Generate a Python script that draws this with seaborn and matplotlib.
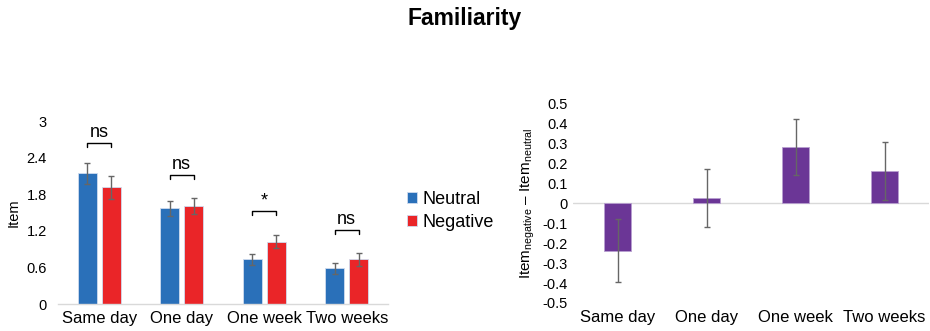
import pandas as pd
import matplotlib
matplotlib.use("Agg")
import matplotlib.pyplot as plt
import seaborn as sns

# datos
delays = ["Same day", "One day", "One week", "Two weeks"]
neutral_mean = [2.14, 1.57, 0.73, 0.585]
neutral_se = [0.165, 0.125, 0.085, 0.095]
negative_mean = [1.91, 1.60, 1.02, 0.73]
negative_se = [0.195, 0.13, 0.11, 0.105]

sig_labels = ["ns", "ns", "*", "ns"]
sig_level = [2.64, 2.11, 1.52, 1.21]

diff_mean = [-0.237, 0.025, 0.284, 0.160]
diff_se = [0.16, 0.146, 0.14, 0.145]

y_ticks_left = [0, 0.6, 1.2, 1.8, 2.4, 3]
y_ticks_right = [-0.5, -0.4, -0.3, -0.2, -0.1, 0, 0.1, 0.2, 0.3, 0.4, 0.5]

sns.set_style("white")
plt.rcParams["font.family"] = ["Liberation Sans", "DejaVu Sans"]
plt.rcParams["mathtext.fontset"] = "custom"
plt.rcParams["mathtext.rm"] = "Liberation Sans"
plt.rcParams["mathtext.it"] = "Liberation Sans:italic"
plt.rcParams["text.color"] = "black"
plt.rcParams["axes.labelcolor"] = "black"
plt.rcParams["xtick.color"] = "black"
plt.rcParams["ytick.color"] = "black"

azul = "#2a70b9"
rojo = "#ea2528"
morado = "#6b3696"
gris_err = "#666666"
gris_linea = "#d9d9d9"

df = pd.DataFrame({
    "delay": delays * 2,
    "value": neutral_mean + negative_mean,
    "cond": ["Neutral"] * len(delays) + ["Negative"] * len(delays),
})
df_diff = pd.DataFrame({"delay": delays, "diff": diff_mean})

fig = plt.figure(figsize=(9.3, 3.31), dpi=100)
fig.text(0.5, 1 - 19 / 331, "Familiarity", ha="center", va="center",
         fontsize=16.5, fontweight="bold")

# 1. PANEL IZQUIERDO
ax1 = fig.add_axes([58 / 930, 27 / 331, 330 / 930, 183 / 331])
sns.barplot(data=df, x="delay", y="value", hue="cond",
            hue_order=["Neutral", "Negative"], palette=[azul, rojo],
            saturation=1, width=0.58, gap=0.2, errorbar=None, ax=ax1,
            edgecolor="#cfdcef", linewidth=0.6)

centros = []
for cont, se in zip(ax1.containers, [neutral_se, negative_se]):
    xs = [p.get_x() + p.get_width() / 2 for p in cont]
    hs = [p.get_height() for p in cont]
    centros.append(xs)
    ax1.errorbar(xs, hs, yerr=se, fmt="none", ecolor=gris_err,
                 elinewidth=1, capsize=2.2, capthick=1)

# corchetes de significancia
for i, (lab, nivel) in enumerate(zip(sig_labels, sig_level)):
    x0, x1 = centros[0][i], centros[1][i]
    ax1.plot([x0, x0, x1, x1], [nivel - 0.065, nivel, nivel, nivel - 0.065],
             color="black", lw=1)
    ax1.text((x0 + x1) / 2, nivel + 0.1, lab, ha="center", va="baseline",
             fontsize=13)

ax1.set_xlim(-0.5, 3.5)
ax1.set_ylim(0, 3)
ax1.set_yticks(y_ticks_left)
ax1.set_yticklabels([f"{v:g}" for v in y_ticks_left])
ax1.tick_params(axis="y", length=0, labelsize=10.5, pad=8)
ax1.tick_params(axis="x", length=0, labelsize=12, pad=5)
ax1.set_xlabel("")
ax1.set_ylabel("Item", fontsize=10.5, labelpad=4)
for s in ["top", "right", "left"]:
    ax1.spines[s].set_visible(False)
ax1.spines["bottom"].set_color(gris_linea)
ax1.spines["bottom"].set_linewidth(1)

handles, labels = ax1.get_legend_handles_labels()
ax1.legend(handles, labels, loc="center left",
           bbox_to_anchor=(407 / 930, 1 - 211 / 331),
           bbox_transform=fig.transFigure, frameon=False, fontsize=13,
           handlelength=0.55, handleheight=0.55, handletextpad=0.3,
           labelspacing=0.3, borderpad=0, borderaxespad=0)

# 2. PANEL DERECHO: DIFERENCIA
ax2 = fig.add_axes([573 / 930, 28 / 331, 356 / 930, 199.5 / 331])
ax2.axhline(0, color=gris_linea, lw=1, zorder=0)
sns.barplot(data=df_diff, x="delay", y="diff", color=morado, saturation=1,
            width=0.3, errorbar=None, ax=ax2, edgecolor="#b89fd0",
            linewidth=0.6)
xs = [p.get_x() + p.get_width() / 2 for p in ax2.containers[0]]
ax2.errorbar(xs, diff_mean, yerr=diff_se, fmt="none", ecolor=gris_err,
             elinewidth=1, capsize=2.2, capthick=1)

ax2.set_xlim(-0.5, 3.5)
ax2.set_ylim(-0.5, 0.5)
ax2.set_yticks(y_ticks_right)
ax2.set_yticklabels([f"{v:g}" for v in y_ticks_right])
ax2.tick_params(axis="y", length=0, labelsize=10.5, pad=4)
ax2.tick_params(axis="x", length=0, labelsize=12, pad=5)
ax2.set_xlabel("")
ax2.set_ylabel(r"Item$_{\mathrm{negative}}$ – Item$_{\mathrm{neutral}}$",
               fontsize=11, labelpad=4)
for s in ["top", "right", "left", "bottom"]:
    ax2.spines[s].set_visible(False)

fig.savefig("out.png", dpi=100)
